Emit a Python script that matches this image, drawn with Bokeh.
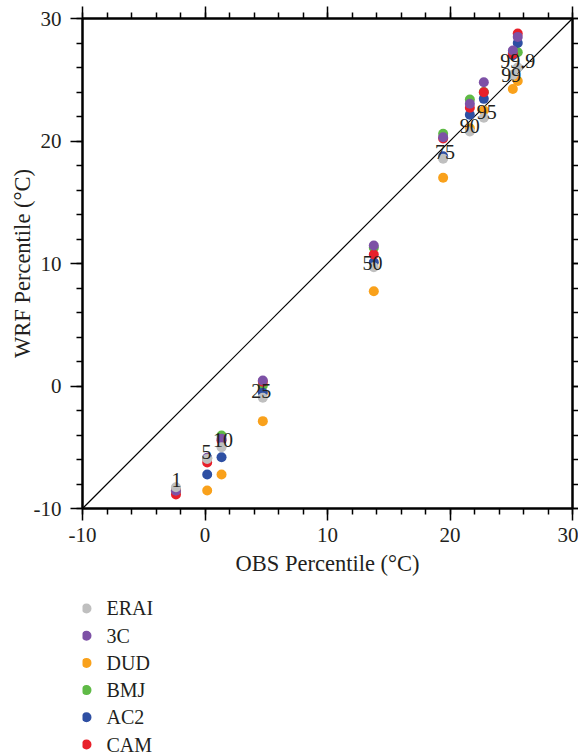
from bokeh.plotting import figure
from bokeh.models import Range1d, LinearAxis, SingleIntervalTicker, ColumnDataSource
from bokeh.layouts import column
from bokeh.core.properties import value
from bokeh.embed import file_html
from bokeh.resources import INLINE

# ---------------- data ----------------
axis_limits = [-10, 30]
tick_values = [-10, 0, 10, 20, 30]
tick_labels = ["-10", "0", "10", "20", "30"]
percentiles = ["1", "5", "10", "25", "50", "75", "90", "95", "99", "99.9"]
obs = [-2.37, 0.18, 1.35, 4.72, 13.78, 19.44, 21.62, 22.76, 25.13, 25.53]

erai = [-8.26, -5.95, -5.0, -0.96, 9.7, 18.55, 20.78, 21.9, 25.4, 26.0]
c3   = [-8.55, -5.85, -4.31, 0.45, 11.47, 20.31, 23.04, 24.8, 27.39, 28.5]
dud  = [-8.5, -8.53, -7.22, -2.87, 7.74, 17.0, 21.04, 22.5, 24.25, 24.9]
bmj  = [-8.5, -5.9, -4.04, 0.04, 11.28, 20.59, 23.39, 24.0, 27.2, 27.25]
ac2  = [-8.6, -7.22, -5.81, -0.56, 10.1, 18.76, 22.14, 23.44, 27.0, 28.0]
cam  = [-8.86, -6.25, -4.45, 0.35, 10.73, 20.2, 22.71, 23.98, 27.1, 28.78]

# percentile label anchor positions (data units)
label_x = [-2.33, 0.12, 1.47, 4.59, 13.68, 19.59, 21.62, 23.0, 25.0, 25.54]
label_y = [-7.71, -5.39, -4.42, -0.39, 10.04, 19.09, 21.22, 22.35, 25.35, 26.57]

series_names = ["ERAI", "3C", "DUD", "BMJ", "AC2", "CAM"]
series_values = [erai, c3, dud, bmj, ac2, cam]
series_colors = ["#bfbfbf", "#7d51a6", "#f9a11b", "#5fba46", "#2e4fa3", "#e8202a"]
draw_order = ["BMJ", "AC2", "CAM", "DUD", "3C", "ERAI"]

FONT = "Liberation Serif"
TXT = "#231f20"

W = 578
H1 = 580
H2 = 175

p = figure(width=W, height=H1, output_backend="svg", toolbar_location=None,
           x_range=Range1d(*axis_limits), y_range=Range1d(*axis_limits),
           min_border_left=82, min_border_right=6, min_border_top=18, min_border_bottom=H1 - 508,
           x_axis_label="OBS Percentile (°C)", y_axis_label="WRF Percentile (°C)")
p.grid.visible = False
p.outline_line_color = "black"
p.outline_line_width = 2
p.background_fill_color = "white"
p.border_fill_color = "white"

def style_axis(ax, tick_out, show_labels=True):
    ax.ticker = SingleIntervalTicker(interval=10, num_minor_ticks=5)
    ax.axis_line_color = "black"
    ax.axis_line_width = 2
    ax.major_tick_line_color = "black"
    ax.major_tick_line_width = 1.5
    ax.minor_tick_line_color = "black"
    ax.minor_tick_line_width = 1.5
    ax.major_tick_in = 0
    ax.major_tick_out = tick_out
    ax.minor_tick_in = 0
    ax.minor_tick_out = 6
    ax.major_label_text_font = FONT
    ax.major_label_text_color = TXT
    ax.axis_label_text_font = FONT
    ax.axis_label_text_font_style = "normal"
    ax.axis_label_text_color = TXT
    ax.axis_label_text_font_size = "22.5px"
    if show_labels:
        ax.major_label_text_font_size = "21px"
        ax.major_label_overrides = dict(zip(tick_values, tick_labels))
    else:
        ax.major_label_text_font_size = "0px"
        ax.major_label_standoff = 0
        ax.major_label_overrides = {t: "" for t in tick_values}

style_axis(p.xaxis[0], 12)
style_axis(p.yaxis[0], 12)
p.xaxis[0].major_label_standoff = 7
p.xaxis[0].axis_label_standoff = 6
p.yaxis[0].major_label_standoff = 9
p.yaxis[0].axis_label_standoff = -4

top_ax = LinearAxis()
right_ax = LinearAxis()
style_axis(top_ax, 12, show_labels=False)
style_axis(right_ax, 6, show_labels=False)
p.add_layout(top_ax, "above")
p.add_layout(right_ax, "right")

# 1:1 line
p.line(axis_limits, axis_limits, line_color="black", line_width=1.2)

for name in draw_order:
    i = series_names.index(name)
    p.scatter(obs, series_values[i], size=10, marker="circle",
              fill_color=series_colors[i], line_color=series_colors[i], line_width=0)

p.text(x=label_x, y=label_y, text=percentiles, text_font=value(FONT),
       text_font_size="20px", text_align="center", text_baseline="middle",
       text_color=TXT)

# ---------------- legend (separate strip below the chart) ----------------
# x axis of this strip is in page pixels; rows are the series index (0 at top)
legend_rows = list(range(len(series_names)))
p2 = figure(width=W, height=H2, output_backend="svg", toolbar_location=None,
            x_range=Range1d(82, 572), y_range=Range1d(5.404, -1.029),
            x_axis_location=None, y_axis_location=None,
            min_border=0, min_border_left=0, min_border_right=0,
            min_border_top=0, min_border_bottom=0, outline_line_color=None)
p2.grid.visible = False
p2.border_fill_color = "white"
p2.background_fill_color = "white"
src = ColumnDataSource(dict(row=legend_rows, name=series_names, color=series_colors,
                            mx=[86] * len(series_names), tx=[106] * len(series_names)))
p2.scatter(x="mx", y="row", source=src, size=10, marker="circle",
           fill_color="color", line_color="color", line_width=0)
p2.text(x="tx", y="row", text="name", source=src, text_font=value(FONT),
        text_font_size="20px", text_align="left", text_baseline="middle",
        text_color=TXT)

open("out.html", "w").write(file_html(column(p, p2), INLINE))
